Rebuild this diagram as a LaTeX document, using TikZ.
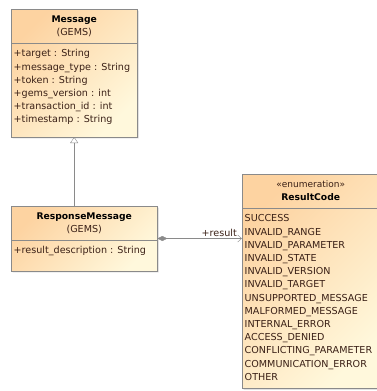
\documentclass[tikz,border=0pt]{standalone}
\usepackage{fontspec}
\setmainfont{DejaVu Sans}
\usetikzlibrary{positioning,shapes.multipart,arrows.meta,shadows}

\definecolor{umlorange}{HTML}{FDD3A1}
\definecolor{umlyellow}{HTML}{FFF8DC}
\definecolor{umlline}{HTML}{8A8A8A}
\definecolor{umltext}{HTML}{3A2016}

\newcommand{\umltitle}[1]{\textcolor{black}{\fontsize{9.2}{13.2}\selectfont\textbf{#1}}}

\begin{document}
\begin{tikzpicture}[
    x=1pt, y=-1pt,
    every node/.style={font=\fontsize{9.6}{13.2}\selectfont},
    umlclass/.style={rectangle split, rectangle split parts=2,
        rectangle split part align={center,left},
        draw=umlline, top color=umlorange, bottom color=umlyellow, shading angle=45,
        drop shadow={shadow xshift=1.5pt, shadow yshift=-1.5pt, opacity=0.35, fill=gray},
        inner xsep=2.5pt, inner ysep=3.8pt, anchor=north west, text=umltext},
    inherit/.style={draw=umlline, -{Triangle[open, length=6pt, width=8pt]}},
    assoc/.style={draw=umlline, {Diamond[length=10pt, width=5pt]}-{Straight Barb[length=4pt, width=7pt]}}
]
\useasboundingbox (0,0) rectangle (377,391);

% classes
\node[umlclass, minimum width=126pt] (msg) at (11,9)
    {\begin{tabular}{@{}c@{}}\umltitle{Message}\\(GEMS)\end{tabular}
     \nodepart{two}
     \begin{tabular}{@{}l@{}}+target : String\\+message\_type : String\\+token : String\\
     +gems\_version : int\\+transaction\_id : int\\+timestamp : String\\[6pt]\end{tabular}};

\node[umlclass, minimum width=146pt] (resp) at (11,206)
    {\begin{tabular}{@{}c@{}}\umltitle{ResponseMessage}\\(GEMS)\end{tabular}
     \nodepart{two}
     \begin{tabular}{@{}l@{}}+result\_description : String\\[9pt]\end{tabular}};

\node[umlclass, minimum width=137pt] (code) at (242,174)
    {\begin{tabular}{@{}c@{}}\fontsize{9}{13.2}\selectfont«enumeration»\\\umltitle{ResultCode}\end{tabular}
     \nodepart{two}
     \begin{tabular}{@{}l@{}}SUCCESS\\INVALID\_RANGE\\INVALID\_PARAMETER\\INVALID\_STATE\\
     INVALID\_VERSION\\INVALID\_TARGET\\UNSUPPORTED\_MESSAGE\\MALFORMED\_MESSAGE\\
     INTERNAL\_ERROR\\ACCESS\_DENIED\\CONFLICTING\_PARAMETER\\COMMUNICATION\_ERROR\\
     OTHER\end{tabular}};

% connectors
\draw[inherit] (msg.south |- resp.north) -- (msg.south);
\draw[assoc] (resp.east) -- (resp.east -| code.west)
    node[pos=1, above left, inner xsep=5pt, inner ysep=1.5pt, text=umltext] {+result};

\end{tikzpicture}
\end{document}
